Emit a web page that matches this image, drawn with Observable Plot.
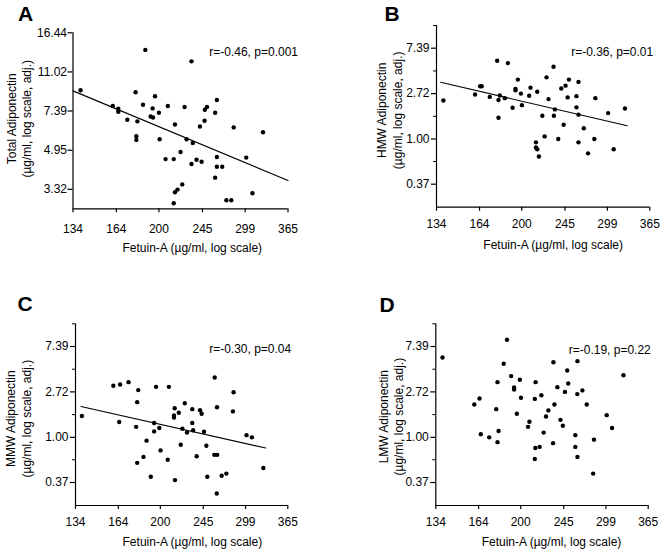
<!DOCTYPE html>
<html><head><meta charset="utf-8">
<script src="https://cdn.jsdelivr.net/npm/d3@7"></script>
<script src="https://cdn.jsdelivr.net/npm/@observablehq/plot@0.6"></script>
<style>
body{margin:0;background:#fff;}
#chart{position:relative;width:662px;height:550px;font-family:Arial,"Liberation Sans",sans-serif;color:#000;}
.panel{position:absolute;width:331px;height:275px;}
.letter{position:absolute;font-weight:bold;font-size:21px;line-height:21px;}
</style></head><body><div id="chart"></div>
<script>
// ---- data (µg/ml) ----
const xTicks = [134, 164, 200, 245, 299, 365];
const xDomain = [134, 365];
const yTicksA = [3.32, 4.95, 7.39, 11.02, 16.44];
const yDomainA = [2.72, 16.44];
const yTicks = [0.37, 1.00, 2.72, 7.39];
const yMinor = [0.61, 1.65, 4.48, 12.18];
const yDomain = [0.223, 12.18];

const fetuinA = [138.8,187.7,232.8,161.3,165.5,165.5,172.6,179.4,185.7,180.9,180.0,180.0,196.4,194.2,192.4,194.6,200.0,200.7,208.5,206.3,214.3,215.5,225.4,227.5,221.2,234.2,232.8,238.3,244.0,242.1,247.4,247.7,250.2,259.9,262.0,262.0,262.0,268.6,259.9,223.0,218.1,215.5,214.3,273.9,280.3,283.4,300.4,309.3,324.9];
const totalA = [9.14,13.80,12.28,7.78,7.57,7.34,6.76,8.95,7.88,6.65,5.71,5.50,8.59,7.59,6.99,6.92,7.26,5.54,7.78,4.52,4.52,6.44,7.70,5.54,4.86,5.33,4.30,4.49,4.40,6.31,6.69,7.49,7.70,7.26,8.27,4.62,4.18,4.18,3.74,3.49,3.31,3.22,2.88,2.97,2.97,6.25,4.59,3.19,5.95];
const fitAx = [134, 365], fitAy = [9.08, 3.63];

const fetuinB = [138.4,160.6,164.5,165.7,172.1,178.2,187.4,180.4,179.3,184.7,179.3,191.6,194.2,194.2,196.4,199.2,200.2,208.4,207.1,215.1,224.7,226.8,220.3,232.2,233.7,232.6,222.7,213.8,213.8,215.1,216.8,237.4,240.8,245.7,249.6,248.1,243.5,258.6,258.6,261.1,261.1,261.1,267.7,273.1,281.3,282.6,300.1,308.1,324.8];
const hmwB = [2.34,2.67,3.20,3.20,2.53,5.60,5.32,2.61,2.36,2.46,1.60,1.99,2.93,3.02,3.70,2.72,2.11,3.10,2.59,2.83,3.89,2.41,1.67,4.91,1.92,1.67,1.06,0.93,0.83,0.80,0.68,1.00,3.04,3.24,3.70,2.50,1.37,2.57,2.01,3.52,1.71,0.93,1.27,0.73,1.00,2.46,1.77,0.80,1.96];
const fitBx = [136.6, 328.3], fitBy = [3.49, 1.34];

const fetuinC = [138.1,160.2,165.4,172.1,164.7,180.2,179.3,178.4,179.3,187.4,184.7,191.2,196.0,194.2,194.2,199.0,200.2,208.2,207.1,214.0,213.3,213.3,218.2,214.3,220.2,221.9,224.4,226.8,232.5,232.5,233.5,237.4,241.2,243.0,245.8,248.5,249.6,258.5,261.3,258.0,261.6,261.0,267.1,273.1,282.6,281.7,300.4,308.1,325.2];
const mmwC = [1.60,3.11,3.20,3.37,1.40,2.83,2.17,1.26,0.57,0.93,0.65,0.42,3.04,1.37,1.14,1.23,0.75,3.04,0.61,1.90,1.62,1.55,1.72,0.39,0.85,1.21,2.12,1.11,1.86,1.37,1.17,0.66,1.82,1.68,1.13,0.83,0.42,3.74,1.94,0.68,0.68,0.29,0.43,0.45,2.70,1.77,1.05,1.00,0.51];
const fitCx = [137.5, 328.9], fitCy = [1.97, 0.79];

const fetuinD = [138.3,160.7,164.7,165.7,172.4,179.3,178.2,180.2,179.3,187.5,184.6,191.2,193.9,193.9,196.4,199.2,200.3,207.1,208.4,214.6,213.8,214.3,213.8,218.7,220.5,222.9,225.4,227.9,233.4,234.5,233.0,237.8,241.3,244.0,246.4,249.1,250.3,258.8,258.8,261.2,261.4,261.4,267.6,273.1,282.6,281.5,300.1,307.8,324.8];
const lmwD = [5.80,2.06,2.35,1.07,1.00,3.37,1.86,1.15,0.90,8.56,5.05,3.85,3.00,2.87,1.68,3.55,2.39,1.26,1.41,3.37,2.33,0.79,0.62,0.81,2.53,1.11,1.58,1.81,5.23,2.06,0.88,3.02,1.47,1.29,2.72,4.36,3.27,1.05,0.81,2.59,5.35,0.65,2.81,2.06,0.95,0.45,1.63,1.23,3.93];

const panelLetters = ["A", "B", "C", "D"];
const yLabels = ["Total Adiponectin", "HMW Adiponectin", "MMW Adiponectin", "LMW Adiponectin"];
const yUnits = "(µg/ml, log scale, adj.)";
const xLabel = "Fetuin-A (µg/ml, log scale)";
const notes = ["r=-0.46, p=0.001", "r=-0.36, p=0.01", "r=-0.30, p=0.04", "r=-0.19, p=0.22"];

// ---- layout ----
const font = 'Arial, "Liberation Sans", sans-serif';
const zip = (xs, ys) => xs.map((x, i) => ({x, y: ys[i]}));
const fmtX = d3.format("d"), fmtY = d3.format(".2f");

const panels = [
  {left: 0, top: 0, xs: fetuinA, ys: totalA, fit: zip(fitAx, fitAy), yd: yDomainA, yt: yTicksA, ym: null,
   m: [32.3, 43.5, 66.7, 72.5], xPad: 12, xLabDy: 39.7, xLabDx: 11.8, yLabDx: -54.4, yLabDy: -2, noteDx: 10, noteDy: 19.4, yPad: 1,
   letter: [18, 2.5]},
  {left: 331, top: 0, xs: fetuinB, ys: hmwB, fit: zip(fitBx, fitBy), yd: yDomain, yt: yTicks, ym: yMinor,
   m: [25, 12.7, 68.3, 105], xPad: 8.4, xLabDy: 38.3, xLabDx: 10, yLabDx: -47.5, yLabDy: -6, noteDx: 3.4, noteDy: 26.7, yPad: 2,
   letter: [53.5, 2.5]},
  {left: 0, top: 275, xs: fetuinC, ys: mmwC, fit: zip(fitCx, fitCy), yd: yDomain, yt: yTicks, ym: yMinor,
   m: [48.3, 43.7, 45, 75], xPad: 8.4, xLabDy: 36.7, xLabDx: 10.7, yLabDx: -57.5, yLabDy: 4, noteDx: 3.4, noteDy: 25, yPad: 2,
   letter: [17.5, 17.5]},
  {left: 331, top: 275, xs: fetuinD, ys: lmwD, fit: null, yd: yDomain, yt: yTicks, ym: yMinor,
   m: [48.3, 14.3, 45, 104.3], xPad: 8.4, xLabDy: 36.7, xLabDx: 9.5, yLabDx: -45.1, yLabDy: 2, noteDx: 2.6, noteDy: 26.7, yPad: 2,
   letter: [48.5, 19.2]}
];

const chart = document.getElementById("chart");
panels.forEach((p, i) => {
  const marks = [
    Plot.ruleX([xDomain[0]], {stroke: "black", strokeWidth: 1.2}),
    Plot.ruleY([p.yd[0]], {stroke: "black", strokeWidth: 1.2}),
    Plot.axisX(xTicks, {ticks: 1e6, tickSize: 4, tickPadding: p.xPad, tickFormat: fmtX, label: null, strokeWidth: 1.2}),
    Plot.axisY(p.yt, {ticks: 1e6, tickSize: 5, tickPadding: p.yPad, tickFormat: fmtY, label: null, strokeWidth: 1.2})
  ];
  if (p.ym) marks.push(Plot.tickY(p.ym, {y: d => d, frameAnchor: "left", stroke: "black", strokeWidth: 1, insetLeft: 0}));
  if (p.fit) marks.push(Plot.line(p.fit, {x: "x", y: "y", stroke: "black", strokeWidth: 1.1}));
  marks.push(
    Plot.dot(zip(p.xs, p.ys), {x: "x", y: "y", r: 2.2, fill: "black"}),
    Plot.text([notes[i]], {frameAnchor: "top-right", textAnchor: "end", lineAnchor: "middle", dx: p.noteDx, dy: p.noteDy, fill: "black"}),
    Plot.text([xLabel], {frameAnchor: "bottom", textAnchor: "middle", lineAnchor: "middle", dx: p.xLabDx, dy: p.xLabDy, fill: "black"}),
    Plot.text([yLabels[i] + "\n" + yUnits], {frameAnchor: "left", rotate: -90, textAnchor: "middle", lineAnchor: "middle", lineHeight: 1.3, dx: p.yLabDx, dy: p.yLabDy, fill: "black"})
  );
  if (p.ym) marks.splice(4, 1, Plot.axisY(p.ym, {ticks: 1e6, tickSize: 3, tickPadding: 0, tickFormat: () => "", label: null, strokeWidth: 1}));
  const svg = Plot.plot({
    width: 331, height: 275,
    marginTop: p.m[0], marginRight: p.m[1], marginBottom: p.m[2], marginLeft: p.m[3],
    style: {fontFamily: font, fontSize: "12px", color: "black", background: "transparent"},
    x: {type: "log", domain: xDomain},
    y: {type: "log", domain: p.yd},
    marks
  });
  const div = document.createElement("div");
  div.className = "panel";
  div.style.left = p.left + "px";
  div.style.top = p.top + "px";
  div.appendChild(svg);
  const lt = document.createElement("div");
  lt.className = "letter";
  lt.textContent = panelLetters[i];
  lt.style.left = p.letter[0] + "px";
  lt.style.top = p.letter[1] + "px";
  div.appendChild(lt);
  chart.appendChild(div);
});
</script>
</body></html>
